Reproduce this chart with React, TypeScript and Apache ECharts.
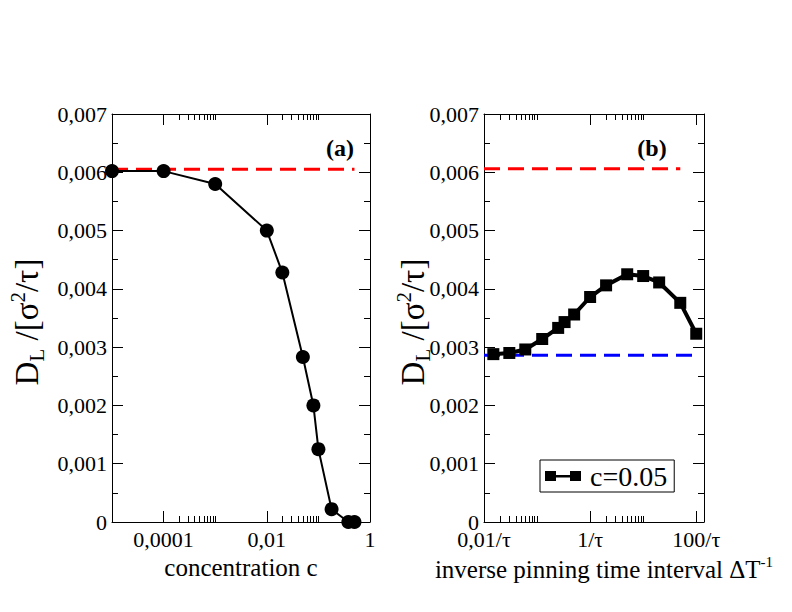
import React, { useEffect, useRef } from "react";
import * as echarts from "echarts";

const FONT = "Liberation Serif";

// Panel (a): diffusion coefficient vs concentration
const concX = [1e-5, 1e-4, 1e-3, 1e-2, 0.02, 0.05, 0.08, 0.1, 0.18, 0.38, 0.5];
const concY = [0.00602, 0.00602, 0.0058, 0.005, 0.00428, 0.00283, 0.002, 0.00125, 0.00022, 0.0, 0.0];
const concRefX = [1e-5, 0.5];
const concRefY = 0.00605;

// Panel (b): diffusion coefficient vs inverse pinning time interval (c=0.05)
const rateX = [0.015, 0.03, 0.06, 0.125, 0.25, 0.33, 0.5, 1, 2, 5, 10, 20, 50, 100];
const rateY = [0.00288, 0.0029, 0.00296, 0.00314, 0.00333, 0.00343, 0.00356, 0.00386, 0.00406, 0.00425, 0.00422, 0.00411, 0.00376, 0.00323];
const rateRedX = [0.01, 50];
const rateRedY = 0.00606;
const rateBlueX = [0.01, 100];
const rateBlueY = 0.00286;

// Axis ticks and labels
const yTickLabels = ["0", "0,001", "0,002", "0,003", "0,004", "0,005", "0,006", "0,007"];
const concMajorTicks = [1e-4, 1e-2, 1];
const concMajorLabels = ["0,0001", "0,01", "1"];
const concMinorTicks = [2e-4, 3e-4, 4e-4, 5e-4, 6e-4, 7e-4, 8e-4, 9e-4, 1e-3, 2e-2, 3e-2, 4e-2, 5e-2, 6e-2, 7e-2, 8e-2, 9e-2, 1e-1];
const rateMajorTicks = [0.01, 1, 100];
const rateMajorLabels = ["0,01/τ", "1/τ", "100/τ"];
const rateMinorTicks = [0.02, 0.03, 0.04, 0.05, 0.06, 0.07, 0.08, 0.09, 0.1, 2, 3, 4, 5, 6, 7, 8, 9, 10];

const BLACK = "#000";

function labelFor(values: number[], labels: string[]) {
  return (v: number) => {
    let best = 0;
    let bd = Infinity;
    values.forEach((t, i) => {
      const d = Math.abs(Math.log10(t) - Math.log10(v));
      if (d < bd) { bd = d; best = i; }
    });
    return labels[best];
  };
}

function xAxes(gridIndex: number, min: number, max: number, majors: number[], minors: number[], labels: string[], name: string, nameExtra: any) {
  const base = {
    type: "log",
    logBase: 10,
    min,
    max,
    gridIndex,
    splitLine: { show: false },
    axisLine: { show: true, onZero: false, lineStyle: { color: BLACK, width: 1 } },
  };
  return [
    {
      ...base,
      position: "bottom",
      axisLabel: {
        customValues: majors,
        formatter: labelFor(majors, labels),
        margin: 6,
        fontSize: 22,
        fontFamily: FONT,
        color: BLACK,
      },
      axisTick: { customValues: majors, inside: true, length: 11, lineStyle: { color: BLACK } },
      name,
      nameLocation: "middle",
      ...nameExtra,
    },
    {
      ...base,
      position: "bottom",
      axisLine: { show: false, onZero: false },
      axisLabel: { show: false },
      axisTick: { customValues: minors, inside: true, length: 6, lineStyle: { color: BLACK } },
    },
    {
      ...base,
      position: "top",
      axisLabel: { show: false },
      axisTick: { customValues: majors, inside: true, length: 11, lineStyle: { color: BLACK } },
    },
    {
      ...base,
      position: "top",
      axisLine: { show: false, onZero: false },
      axisLabel: { show: false },
      axisTick: { customValues: minors, inside: true, length: 6, lineStyle: { color: BLACK } },
    },
  ];
}

function yAxes(gridIndex: number) {
  const base = {
    type: "value",
    min: 0,
    max: 0.007,
    interval: 0.001,
    gridIndex,
    splitLine: { show: false },
    minorSplitLine: { show: false },
    axisLine: { show: true, onZero: false, lineStyle: { color: BLACK, width: 1 } },
    axisTick: { inside: true, length: 11, lineStyle: { color: BLACK } },
    minorTick: { show: true, splitNumber: 2, length: 6, lineStyle: { color: BLACK } },
  };
  return [
    {
      ...base,
      position: "left",
      axisLabel: {
        formatter: (v: number) => yTickLabels[Math.round(v / 0.001)],
        margin: 5,
        fontSize: 22,
        fontFamily: FONT,
        color: BLACK,
      },
    },
    { ...base, position: "right", axisLabel: { show: false } },
  ];
}

const yTitleRich = {
  m: { fontSize: 33, fontFamily: FONT, lineHeight: 40, verticalAlign: "middle", fill: BLACK },
  sub: { fontSize: 21, fontFamily: FONT, lineHeight: 40, verticalAlign: "bottom", fill: BLACK },
  sup: { fontSize: 21, fontFamily: FONT, lineHeight: 40, verticalAlign: "top", fill: BLACK },
};
const yTitleText = "{m|D}{sub|L}{m| /[σ}{sup|2}{m|/τ]}";

export default function App() {
  const ref = useRef<HTMLDivElement>(null);
  useEffect(() => {
    if (!ref.current) return;
    const chart = echarts.init(ref.current, null, { renderer: "svg" });
    const option: any = {
      animation: false,
      backgroundColor: "#fff",
      textStyle: { fontFamily: FONT },
      grid: [
        { left: 112, top: 114, width: 258, height: 408 },
        { left: 484, top: 114, width: 220, height: 408 },
      ],
      xAxis: [
        ...xAxes(0, 1e-5, 1, concMajorTicks, concMinorTicks, concMajorLabels, "concentration c", {
          nameGap: 27,
          nameTextStyle: { fontSize: 25, fontFamily: FONT, color: BLACK },
        }),
        ...xAxes(1, 0.01, 140, rateMajorTicks, rateMinorTicks, rateMajorLabels, "{n|inverse pinning time interval ΔT}{sup|-1}", {
          nameGap: 30,
          nameTextStyle: {
            fontSize: 25,
            fontFamily: FONT,
            color: BLACK,
            padding: [0, 0, 0, 20],
            rich: {
              n: { fontSize: 25, fontFamily: FONT, color: BLACK, lineHeight: 30 },
              sup: { fontSize: 15, fontFamily: FONT, color: BLACK, verticalAlign: "top", lineHeight: 30 },
            },
            lineHeight: 30,
          },
        }),
      ],
      yAxis: [...yAxes(0), ...yAxes(1)],
      legend: {
        data: ["c=0.05"],
        left: 540,
        top: 460,
        orient: "horizontal",
        borderColor: BLACK,
        borderWidth: 1,
        borderRadius: 0,
        padding: [2, 7, 2, 5],
        itemWidth: 36,
        itemHeight: 12,
        selectedMode: false,
        icon: "path://M0,0h11v10h-11z M25,0h11v10h-11z M11,4h14v2.5h-14z",
        textStyle: { fontSize: 28, fontFamily: FONT, color: BLACK, padding: [0, 0, 0, 4] },
      },
      graphic: [
        {
          type: "text",
          x: 27,
          y: 322,
          rotation: Math.PI / 2,
          style: { text: yTitleText, rich: yTitleRich, align: "center", verticalAlign: "middle", fill: BLACK },
        },
        {
          type: "text",
          x: 413,
          y: 322,
          rotation: Math.PI / 2,
          style: { text: yTitleText, rich: yTitleRich, align: "center", verticalAlign: "middle", fill: BLACK },
        },
        {
          type: "text",
          x: 340,
          y: 148,
          style: { text: "(a)", fontSize: 24, fontWeight: "bold", fontFamily: FONT, fill: BLACK, align: "center", verticalAlign: "middle" },
        },
        {
          type: "text",
          x: 652,
          y: 148,
          style: { text: "(b)", fontSize: 24, fontWeight: "bold", fontFamily: FONT, fill: BLACK, align: "center", verticalAlign: "middle" },
        },
      ],
      series: [
        {
          type: "line",
          name: "ref-a",
          xAxisIndex: 0,
          yAxisIndex: 0,
          data: concRefX.map((x) => [x, concRefY]),
          symbol: "none",
          lineStyle: { color: "#ff0000", width: 3, type: [16, 8] },
          silent: true,
          z: 2,
        },
        {
          type: "line",
          name: "conc",
          xAxisIndex: 0,
          yAxisIndex: 0,
          data: concX.map((x, i) => [x, concY[i]]),
          symbol: "circle",
          symbolSize: 14,
          showAllSymbol: true,
          itemStyle: { color: BLACK },
          lineStyle: { color: BLACK, width: 2 },
          clip: false,
          z: 3,
        },
        {
          type: "line",
          name: "ref-b-red",
          xAxisIndex: 4,
          yAxisIndex: 2,
          data: rateRedX.map((x) => [x, rateRedY]),
          symbol: "none",
          lineStyle: { color: "#ff0000", width: 3, type: [16, 8] },
          silent: true,
          z: 2,
        },
        {
          type: "line",
          name: "ref-b-blue",
          xAxisIndex: 4,
          yAxisIndex: 2,
          data: rateBlueX.map((x) => [x, rateBlueY]),
          symbol: "none",
          lineStyle: { color: "#0000ff", width: 3, type: [16, 8] },
          silent: true,
          z: 2,
        },
        {
          type: "line",
          name: "c=0.05",
          xAxisIndex: 4,
          yAxisIndex: 2,
          data: rateX.map((x, i) => [x, rateY[i]]),
          symbol: "rect",
          symbolSize: 12,
          showAllSymbol: true,
          itemStyle: { color: BLACK },
          lineStyle: { color: BLACK, width: 4 },
          clip: false,
          z: 3,
        },
      ],
    };
    chart.setOption(option);
    return () => chart.dispose();
  }, []);
  return (
    <div style={{ position: "absolute", left: 0, top: 0, width: 792, height: 612, background: "#fff" }}>
      <div ref={ref} style={{ width: 792, height: 612 }} />
    </div>
  );
}
